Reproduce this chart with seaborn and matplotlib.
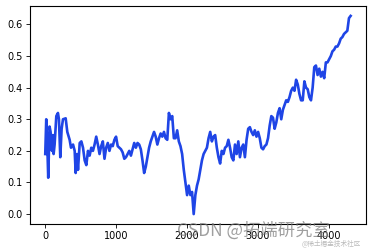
import numpy as np
import pandas as pd
import matplotlib
matplotlib.use("Agg")
import matplotlib.pyplot as plt
import seaborn as sns

# early part read at irregular day positions
early_days = [0, 14, 28, 42, 61, 75, 94, 108, 118, 132, 156, 179, 193, 212, 231, 250,
              288, 311, 344, 363, 392, 415, 429, 448, 462]
early_vals = [0.19, 0.30, 0.224, 0.115, 0.277, 0.26, 0.20, 0.25, 0.19, 0.22, 0.31, 0.32,
              0.30, 0.18, 0.27, 0.30, 0.303, 0.26, 0.235, 0.21, 0.22, 0.20, 0.13, 0.19, 0.14]

# remaining part read every ~23.3 days starting at day 486
rest_start = 486
rest_step = 23.3
rest_vals = [
    0.225, 0.23, 0.21, 0.17, 0.155, 0.20, 0.185, 0.21, 0.20, 0.22,
    0.245, 0.22, 0.19, 0.215, 0.23, 0.175, 0.21, 0.225, 0.20, 0.22,
    0.215, 0.235, 0.245, 0.215, 0.21, 0.205, 0.195, 0.175, 0.18, 0.19,
    0.20, 0.185, 0.205, 0.225, 0.21, 0.225, 0.22, 0.205, 0.17, 0.13,
    0.15, 0.18, 0.21, 0.23, 0.245, 0.26, 0.245, 0.22, 0.24, 0.255,
    0.245, 0.26, 0.24, 0.235, 0.32, 0.30, 0.31, 0.24, 0.24, 0.265,
    0.23, 0.215, 0.19, 0.14, 0.10, 0.06, 0.09, 0.06, 0.07, 0.0,
    0.06, 0.09, 0.11, 0.14, 0.17, 0.19, 0.20, 0.21, 0.24, 0.26,
    0.23, 0.245, 0.25, 0.21, 0.18, 0.16, 0.20, 0.19, 0.21, 0.215,
    0.235, 0.21, 0.18, 0.17, 0.22, 0.19, 0.23, 0.18, 0.21, 0.22,
    0.18, 0.235, 0.27, 0.275, 0.26, 0.25, 0.265, 0.245, 0.26, 0.24,
    0.21, 0.205, 0.215, 0.22, 0.24, 0.28, 0.31, 0.305, 0.27, 0.29,
    0.32, 0.335, 0.30, 0.33, 0.345, 0.36, 0.355, 0.37, 0.39, 0.40,
    0.39, 0.425, 0.41, 0.38, 0.36, 0.36, 0.42, 0.40, 0.395, 0.37,
    0.36, 0.40, 0.465, 0.47, 0.44, 0.46, 0.435, 0.45, 0.43, 0.48,
    0.48, 0.49, 0.50, 0.515, 0.52, 0.53, 0.53, 0.54, 0.555, 0.56,
    0.57, 0.575, 0.58, 0.62, 0.627,
]
rest_days = [rest_start + i * rest_step for i in range(len(rest_vals))]

days = early_days + rest_days
values = early_vals + rest_vals
df = pd.DataFrame({"day": days, "value": values})

fig = plt.figure(figsize=(3.72, 2.48), dpi=100)
ax = fig.add_axes([0.0806, 0.0968, 0.903, 0.879])
sns.lineplot(data=df, x="day", y="value", ax=ax, color="#1f45e6", linewidth=1.9)
ax.set_xlabel("")
ax.set_ylabel("")
ax.set_xticks([0, 1000, 2000, 3000, 4000])
ax.set_yticks([0.0, 0.1, 0.2, 0.3, 0.4, 0.5, 0.6])
ax.tick_params(labelsize=7, length=3, width=0.6, pad=2)
for s in ax.spines.values():
    s.set_linewidth(0.8)
    s.set_color("black")

fig.text(0.475, 0.05, "CSDN @拓端研究室", fontsize=12.5, color="#777777", alpha=0.7,
         family=["Noto Sans CJK SC", "DejaVu Sans"])
fig.text(0.81, 0.01, "@稀土掘金技术社区", fontsize=4.8, color="#aaaaaa", alpha=0.8,
         family=["Noto Sans CJK SC", "DejaVu Sans"])

fig.savefig("out.png", dpi=100)
